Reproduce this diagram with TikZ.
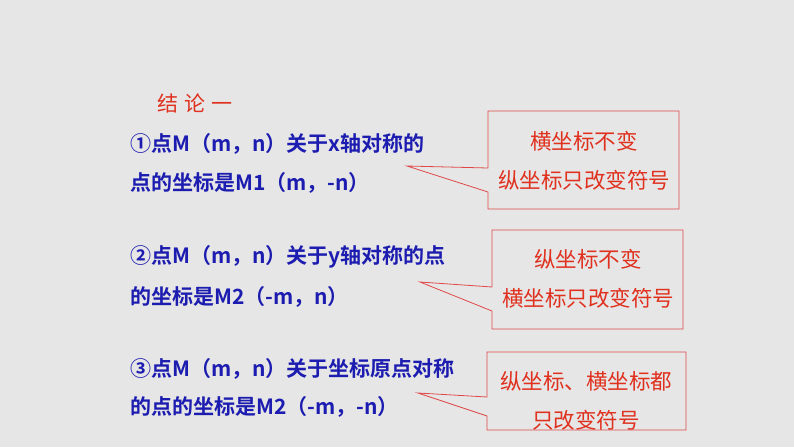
\documentclass[tikz,border=0pt]{standalone}
\usepackage{fontspec}
\newfontfamily\cjk{Noto Sans CJK SC}
\newfontfamily\cjkb{Noto Sans CJK SC Bold}
\definecolor{bg}{HTML}{E6E6E6}
\definecolor{tblue}{HTML}{1C1CB0}
\definecolor{tred}{HTML}{E0301E}
\definecolor{bred}{HTML}{E04848}
\begin{document}
\begin{tikzpicture}[x=1pt,y=-1pt,
  lefttxt/.style={anchor=west,inner sep=0,font=\cjkb\fontsize{21}{24}\selectfont,text=tblue},
  boxtxt/.style={anchor=center,inner sep=0,font=\cjk\fontsize{21.5}{24}\selectfont,text=tred},
  callout/.style={draw=bred,line width=0.8pt,line join=miter}]
\fill[bg] (0,0) rectangle (794,447);
\useasboundingbox (0,0) rectangle (794,447);
\node[anchor=west,inner sep=0,font=\cjk\fontsize{21}{24}\selectfont,text=tred] (title) at (157,103) {结\hspace{6pt}论\hspace{6pt}一};
\node[lefttxt] (a1) at (130,144) {①点M（m，n）关于x轴对称的};
\node[lefttxt] (a2) at (130,183) {点的坐标是M1（m，-n）};
\node[lefttxt] (b1) at (130,257) {②点M（m，n）关于y轴对称的点};
\node[lefttxt] (b2) at (130,297) {的坐标是M2（-m，n）};
\node[lefttxt] (c1) at (130,369) {③点M（m，n）关于坐标原点对称};
\node[lefttxt] (c2) at (130,407) {的点的坐标是M2（-m，-n）};
\coordinate (t1) at (407,166);
\coordinate (t2) at (420,282);
\coordinate (t3) at (418,393);
\draw[callout] (488,168) -- (488,111) -- (679,111) -- (679,209) -- (488,209) -- (488,192) -- (t1) -- cycle;
\draw[callout] (492,287) -- (492,230) -- (683,230) -- (683,329) -- (492,329) -- (492,311) -- (t2) -- cycle;
\draw[callout] (487,397) -- (487,352) -- (686,352) -- (686,430) -- (487,430) -- (487,416) -- (t3) -- cycle;
\node[boxtxt] (p1) at (584,141) {横坐标不变};
\node[boxtxt] (p2) at (584,180) {纵坐标只改变符号};
\node[boxtxt] (q1) at (588,259) {纵坐标不变};
\node[boxtxt] (q2) at (588,298) {横坐标只改变符号};
\node[boxtxt] (r1) at (586,381) {纵坐标、横坐标都};
\node[boxtxt] (r2) at (586,420) {只改变符号};
\end{tikzpicture}
\end{document}
